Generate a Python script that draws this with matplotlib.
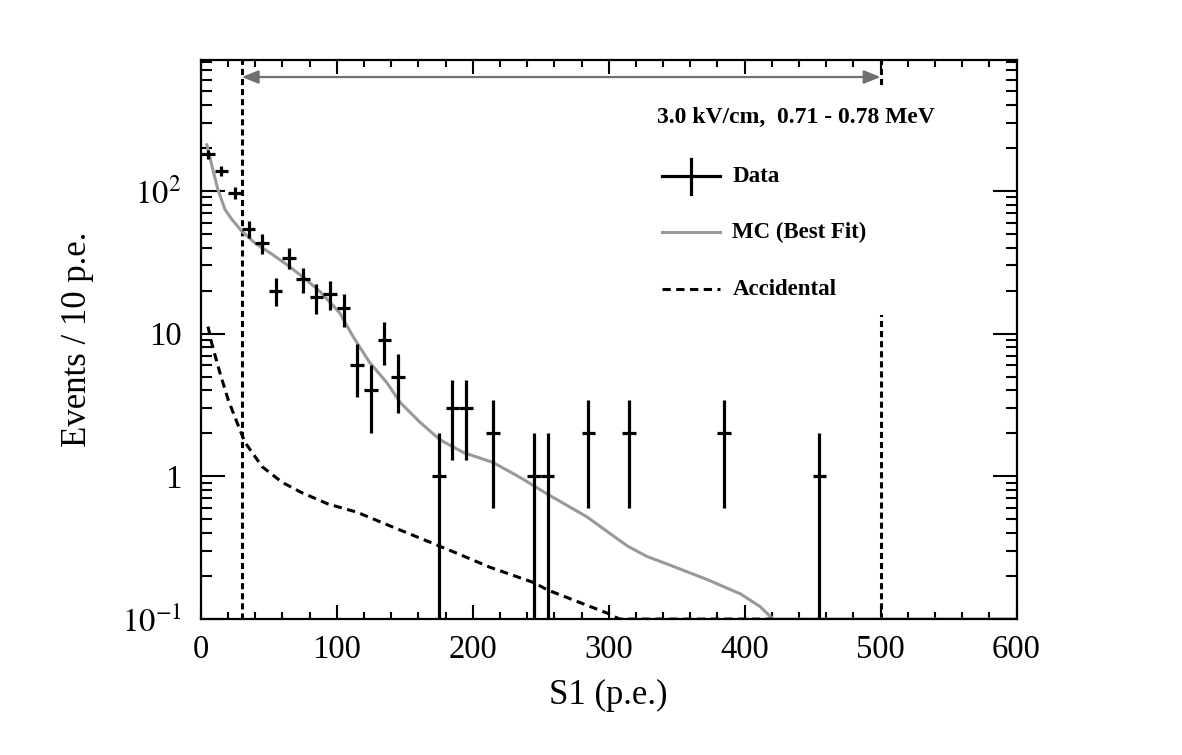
import numpy as np
import matplotlib
matplotlib.use('Agg')
import matplotlib.pyplot as plt
from matplotlib.patches import Rectangle
from matplotlib.ticker import FixedLocator, MultipleLocator, LogLocator, NullFormatter

plt.rcParams['font.family'] = ['Liberation Serif', 'DejaVu Serif']
plt.rcParams['mathtext.fontset'] = 'stix'

# data histogram (bin centres, counts, poisson errors)
bin_x = [5, 15, 25, 35, 45, 55, 65, 75, 85, 95, 105, 115, 125, 135, 145,
         175, 185, 195, 215, 245, 255, 285, 315, 385, 455]
counts = [180, 138, 97, 54, 43, 20, 34, 24, 18, 19, 15, 6, 4, 9, 5,
          1, 3, 3, 2, 1, 1, 2, 2, 2, 1]
err = [13.4, 11.7, 9.8, 7.3, 6.6, 4.5, 5.8, 4.9, 4.2, 4.4, 3.9, 2.4, 2.0, 3.0, 2.2,
       1.0, 1.7, 1.7, 1.4, 1.0, 1.0, 1.4, 1.4, 1.4, 1.0]

# MC best fit
mc_x = [4.4, 8.8, 12.5, 17.7, 22.8, 30.2, 39.8, 52.3, 64, 76, 87.6, 102, 112, 124,
        137, 146.5, 161, 176, 193, 215, 235, 255, 284, 299, 314, 328, 343, 372,
        397, 411, 421, 600]
mc_y = [210, 140, 102, 74, 63, 52, 43, 36, 30, 24.5, 19.7, 14, 9.5, 6.3,
        4.5, 3.3, 2.4, 1.8, 1.47, 1.25, 0.98, 0.75, 0.52, 0.41, 0.324, 0.275, 0.243, 0.19,
        0.15, 0.123, 0.1, 0.1]

# accidental background
acc_x = [5.2, 8, 14, 20, 26.5, 32.4, 45, 59.6, 74, 93.5, 115, 139, 164, 188, 213,
         245, 255, 299, 308, 420]
acc_y = [11.2, 8.5, 5.3, 3.45, 2.39, 1.73, 1.17, 0.91, 0.77, 0.64, 0.56, 0.45, 0.36,
         0.29, 0.23, 0.18, 0.16, 0.11, 0.1, 0.1]

window = [30, 500]
y_arrow = 627

fig = plt.figure(figsize=(11.82, 7.55), dpi=100)
ax = fig.add_axes([0.170, 0.180, 0.690, 0.740])

ax.set_yscale('log')
ax.set_xlim(0, 600)
ax.set_ylim(0.1, 820)

lo = [min(e, c - 0.001) for c, e in zip(counts, err)]
ax.errorbar(bin_x, counts, xerr=5, yerr=[lo, err], fmt='none',
            ecolor='black', elinewidth=2.3, capsize=0, zorder=3)
ax.plot(mc_x, mc_y, color='#999999', lw=2.2, zorder=2)
ax.plot(acc_x, acc_y, color='black', lw=2.2, ls=(0, (2.7, 1.8)), zorder=2)

for wx in window:
    ax.plot([wx, wx], [0.1, 820], color='black', lw=2.2, ls=(0, (2.0, 1.3)), zorder=1)

ax.annotate('', xy=(window[0], y_arrow), xytext=(window[1], y_arrow),
            arrowprops=dict(arrowstyle='<|-|>,head_length=1.0,head_width=0.4',
                            color='#707070', lw=1.6, shrinkA=0, shrinkB=0))

# legend box drawn by hand (ROOT style)
T = ax.transAxes
ax.add_patch(Rectangle((0.551, 0.544), 0.405, 0.404, transform=T,
                       facecolor='white', edgecolor='none', zorder=5))
lfont = dict(fontweight='bold', va='center', ha='left', transform=T, zorder=6)
ax.text(0.5595, 0.898, '3.0 kV/cm,  0.71 - 0.78 MeV', fontsize=17, **lfont)
hx = [0.5656, 0.6368]
tx = 0.6515
ax.plot(hx, [0.7925, 0.7925], color='black', lw=2.3, transform=T, zorder=6)
ax.plot([sum(hx) / 2] * 2, [0.7925 - 0.031, 0.7925 + 0.031], color='black', lw=2.3,
        transform=T, zorder=6)
ax.text(tx, 0.7925, 'Data', fontsize=16.5, **lfont)
ax.plot(hx, [0.692, 0.692], color='#999999', lw=2.2, transform=T, zorder=6)
ax.text(tx, 0.692, 'MC (Best Fit)', fontsize=16.5, **lfont)
ax.plot(hx, [0.590, 0.590], color='black', lw=2.2, ls=(0, (2.7, 1.8)), transform=T, zorder=6)
ax.text(tx, 0.590, 'Accidental', fontsize=16.5, **lfont)

ax.yaxis.set_major_locator(FixedLocator([0.1, 1, 10, 100]))
ax.set_yticklabels([r'$10^{-1}$', '1', '10', r'$10^{2}$'])
ax.yaxis.set_minor_locator(LogLocator(base=10, subs=np.arange(2, 10)))
ax.yaxis.set_minor_formatter(NullFormatter())
ax.xaxis.set_major_locator(MultipleLocator(100))
ax.xaxis.set_minor_locator(MultipleLocator(20))

ax.tick_params(which='both', direction='in', top=True, right=True, width=1.5,
               labelsize=23.5)
ax.tick_params(axis='x', which='major', length=10, pad=11)
ax.tick_params(axis='x', which='minor', length=5)
ax.tick_params(axis='y', which='major', length=17, pad=14)
ax.tick_params(axis='y', which='minor', length=8)
for s in ax.spines.values():
    s.set_linewidth(1.6)

ax.set_xlabel('S1 (p.e.)', fontsize=25, labelpad=10)
ax.set_ylabel('Events / 10 p.e.', fontsize=25, labelpad=20)

fig.savefig('out.png', dpi=100)
